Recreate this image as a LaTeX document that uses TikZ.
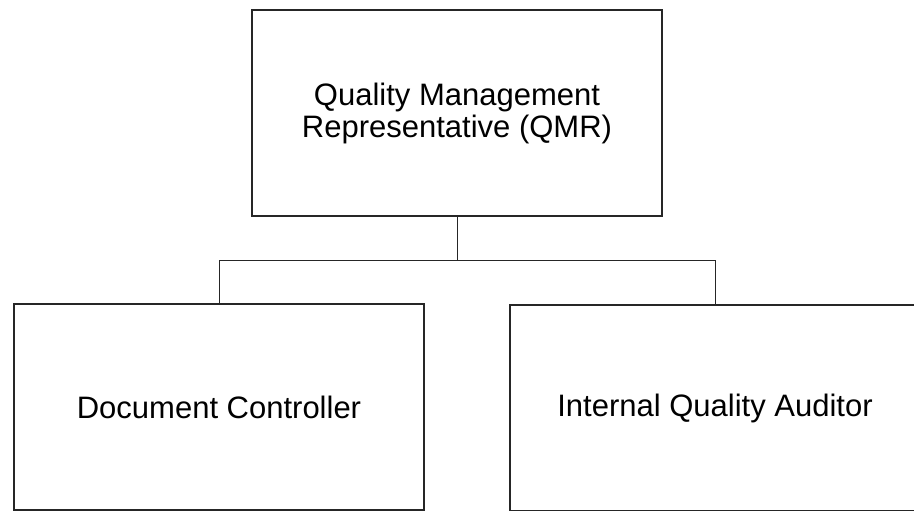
\documentclass[tikz,border=0pt]{standalone}
\usepackage{fontspec}
\setmainfont{Liberation Sans}
\begin{document}
\begin{tikzpicture}[x=1pt,y=-1pt,
    role/.style={draw=black!85,line width=1.2pt,minimum width=410pt,minimum height=206pt,
      align=center,font=\fontsize{31}{32}\selectfont,inner sep=0pt},
    link/.style={draw=black!85,line width=0.9pt}]
    \def \Roles {
      doc/219/407/Document Controller,
      auditor/715/408/Internal Quality Auditor}

    \useasboundingbox (0,0) rectangle (914,511);
    \node[role] (qmr) at (457,113) {Quality Management\\Representative (QMR)};
    \foreach \id / \x / \y / \name in \Roles {
      \node[role] (\id) at (\x, \y) {\name};
    }
    \path (qmr.south) ++(0,44) coordinate (hub);
    \draw[link] (qmr.south) -- (hub);
    \draw[link] (doc.north) |- (hub) -| (auditor.north);
  \end{tikzpicture}
\end{document}
